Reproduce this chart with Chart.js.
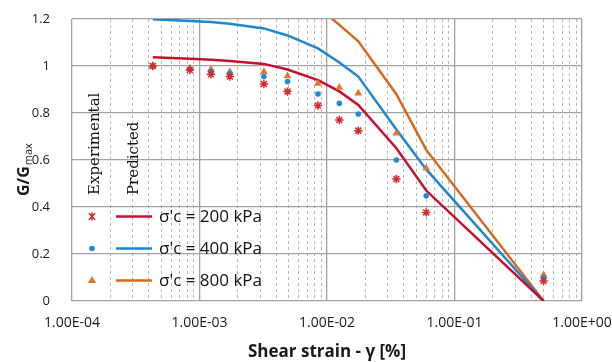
<!DOCTYPE html>
<html>
<head>
<meta charset="utf-8">
<script src="https://cdn.jsdelivr.net/npm/chart.js@4/dist/chart.umd.min.js"></script>
<style>
  html, body { margin: 0; padding: 0; background: #fff; }
  #wrap { width: 612px; height: 362px; }
</style>
</head>
<body>
<div id="wrap"><canvas id="chart"></canvas></div>
<script>
// shear strain [%] of the test points (same for all three confining pressures)
const strain = [4.3e-4, 8.4e-4, 1.23e-3, 1.73e-3, 3.2e-3, 4.9e-3, 8.5e-3, 1.25e-2, 1.76e-2, 3.5e-2, 6.0e-2, 0.5];

// experimental G/Gmax
const exp200 = [1.0, 0.983, 0.965, 0.955, 0.923, 0.891, 0.832, 0.770, 0.725, 0.519, 0.377, 0.085];
const exp400 = [1.0, 0.985, 0.976, 0.968, 0.955, 0.934, 0.881, 0.841, 0.796, 0.600, 0.448, 0.100];
const exp800 = [1.0, 0.990, 0.986, 0.976, 0.976, 0.957, 0.926, 0.909, 0.884, 0.714, 0.565, 0.111];

// predicted G/Gmax
const pred200 = [1.037, 1.031, 1.027, 1.021, 1.009, 0.985, 0.940, 0.892, 0.834, 0.650, 0.470, 0.0];
const pred400 = [1.199, 1.192, 1.187, 1.180, 1.160, 1.130, 1.075, 1.015, 0.955, 0.730, 0.560, 0.0];
const pred800 = [1.330, 1.325, 1.320, 1.315, 1.300, 1.285, 1.250, 1.175, 1.105, 0.880, 0.643, 0.0];

const legendLabels = ["σ'c = 200 kPa", "σ'c = 400 kPa", "σ'c = 800 kPa"];
const yTicks = [0, 0.2, 0.4, 0.6, 0.8, 1, 1.2];

const RED = '#c8102e', BLUE = '#1f86cf', ORANGE = '#d8691c';
const RED_PT = '#d42a2a', BLUE_PT = '#1f8ad6', ORANGE_PT = '#e0782c';

function pts(ys) {
    return strain.map((x, i) => ({ x: x, y: ys[i] }));
}

function isDecade(v) {
    const e = Math.log10(v);
    return Math.abs(e - Math.round(e)) < 1e-9;
}

function sciLabel(v) {
    const e = Math.round(Math.log10(v));
    const sign = e < 0 ? '-' : '+';
    return '1.00E' + sign + String(Math.abs(e)).padStart(2, '0');
}

// keep the plot area exactly where the layout padding puts it
function noScalePadding(scale) {
    scale.paddingTop = 0;
    scale.paddingBottom = 0;
    scale.paddingLeft = 0;
    scale.paddingRight = 0;
}

// y axis title with subscript, legend with the two rotated headers
const extras = {
    id: 'extras',
    afterDraw(chart) {
        const ctx = chart.ctx;
        ctx.save();
        ctx.fillStyle = '#1a1a1a';
        ctx.textBaseline = 'alphabetic';
        ctx.textAlign = 'left';

        // y title
        ctx.save();
        ctx.translate(29, 196);
        ctx.rotate(-Math.PI / 2);
        ctx.font = 'bold 16px "Open Sans"';
        ctx.fillText('G/G', 0, 0);
        const w = ctx.measureText('G/G').width;
        ctx.font = '11px "Open Sans"';
        ctx.fillText('max', w + 1, 3);
        ctx.restore();

        // rotated headers
        ctx.font = '15px "DejaVu Serif"';
        ctx.fillStyle = '#111';
        ctx.save();
        ctx.translate(99, 195);
        ctx.rotate(-Math.PI / 2);
        ctx.fillText('Experimental', 0, 0);
        ctx.restore();
        ctx.save();
        ctx.translate(138, 195);
        ctx.rotate(-Math.PI / 2);
        ctx.fillText('Predicted', 0, 0);
        ctx.restore();

        // legend rows
        const rows = [216.5, 248.5, 280.5];
        const lineCols = [RED, BLUE, ORANGE];
        const ptCols = [RED_PT, BLUE_PT, ORANGE_PT];
        const mx = 92;
        rows.forEach((y, i) => {
            ctx.strokeStyle = ptCols[i];
            ctx.fillStyle = ptCols[i];
            ctx.lineWidth = 1.5;
            if (i === 0) {
                const r = 4;
                ctx.beginPath();
                ctx.moveTo(mx - r * 0.8, y - r * 0.8); ctx.lineTo(mx + r * 0.8, y + r * 0.8);
                ctx.moveTo(mx + r * 0.8, y - r * 0.8); ctx.lineTo(mx - r * 0.8, y + r * 0.8);
                ctx.moveTo(mx, y - r); ctx.lineTo(mx, y + r);
                ctx.stroke();
            } else if (i === 1) {
                ctx.beginPath();
                ctx.arc(mx, y, 2.8, 0, Math.PI * 2);
                ctx.fill();
            } else {
                ctx.beginPath();
                ctx.moveTo(mx, y - 4.5);
                ctx.lineTo(mx + 4.2, y + 2.6);
                ctx.lineTo(mx - 4.2, y + 2.6);
                ctx.closePath();
                ctx.fill();
            }
            ctx.strokeStyle = lineCols[i];
            ctx.lineWidth = 2.5;
            ctx.beginPath();
            ctx.moveTo(116, y);
            ctx.lineTo(152, y);
            ctx.stroke();

            ctx.fillStyle = '#111';
            ctx.font = '17px "Open Sans"';
            ctx.textBaseline = 'middle';
            ctx.fillText(legendLabels[i], 159, y + 1);
        });
        ctx.restore();
    }
};

new Chart(document.getElementById('chart'), {
    type: 'scatter',
    data: {
        datasets: [
            { label: 'exp 200', data: pts(exp200), pointStyle: 'star', pointRadius: 4.2,
              borderColor: RED_PT, backgroundColor: RED_PT, pointBorderWidth: 1.5 },
            { label: 'exp 400', data: pts(exp400), pointStyle: 'circle', pointRadius: 2.8,
              borderColor: BLUE_PT, backgroundColor: BLUE_PT, pointBorderWidth: 0 },
            { label: 'exp 800', data: pts(exp800), pointStyle: 'triangle', pointRadius: 4.5,
              borderColor: ORANGE_PT, backgroundColor: ORANGE_PT, pointBorderWidth: 0 },
            { label: 'pred 200', data: pts(pred200), showLine: true, pointRadius: 0,
              borderColor: RED, borderWidth: 2.5, tension: 0 },
            { label: 'pred 400', data: pts(pred400), showLine: true, pointRadius: 0,
              borderColor: BLUE, borderWidth: 2.5, tension: 0 },
            { label: 'pred 800', data: pts(pred800), showLine: true, pointRadius: 0,
              borderColor: ORANGE, borderWidth: 2.5, tension: 0 }
        ]
    },
    options: {
        responsive: true,
        maintainAspectRatio: false,
        animation: false,
        events: [],
        layout: { padding: { left: 0, right: 30, top: 19, bottom: 0 } },
        plugins: {
            legend: { display: false },
            tooltip: { enabled: false }
        },
        scales: {
            x: {
                type: 'logarithmic',
                min: 1e-4,
                max: 1,
                afterBuildTicks(scale) {
                    const t = [];
                    for (let e = -4; e < 0; e++) {
                        for (let m = 1; m <= 9; m++) {
                            t.push({ value: m * Math.pow(10, e), major: m === 1 });
                        }
                    }
                    t.push({ value: 1, major: true });
                    scale.ticks = t;
                },
                afterFit(scale) {
                    scale.height = 61;
                    noScalePadding(scale);
                },
                grid: {
                    drawTicks: false,
                    color: c => (c.tick && isDecade(c.tick.value)) ? '#a3a3a3' : '#b8b8b8',
                    lineWidth: c => (c.tick && isDecade(c.tick.value)) ? 1.3 : 1
                },
                border: {
                    display: false,
                    dash: c => (c.tick && isDecade(c.tick.value)) ? [] : [3, 3]
                },
                ticks: {
                    autoSkip: false,
                    maxRotation: 0,
                    padding: 14,
                    color: '#1a1a1a',
                    font: { family: '"Open Sans"', size: 14 },
                    callback: (v) => isDecade(v) ? sciLabel(v) : ''
                },
                title: {
                    display: true,
                    text: 'Shear strain - γ [%]',
                    color: '#1a1a1a',
                    font: { family: '"Open Sans"', size: 17, weight: 'bold' },
                    padding: { top: 0, bottom: 0 }
                }
            },
            y: {
                min: 0,
                max: 1.2,
                afterBuildTicks(scale) {
                    scale.ticks = yTicks.map(v => ({ value: v }));
                },
                afterFit(scale) {
                    scale.width = 72;
                    noScalePadding(scale);
                },
                grid: {
                    drawTicks: false,
                    color: '#a3a3a3',
                    lineWidth: 1.3
                },
                border: { display: false },
                ticks: {
                    padding: 22,
                    color: '#1a1a1a',
                    font: { family: '"Open Sans"', size: 13 },
                    callback: v => String(v)
                }
            }
        }
    },
    plugins: [extras]
});
</script>
</body>
</html>
